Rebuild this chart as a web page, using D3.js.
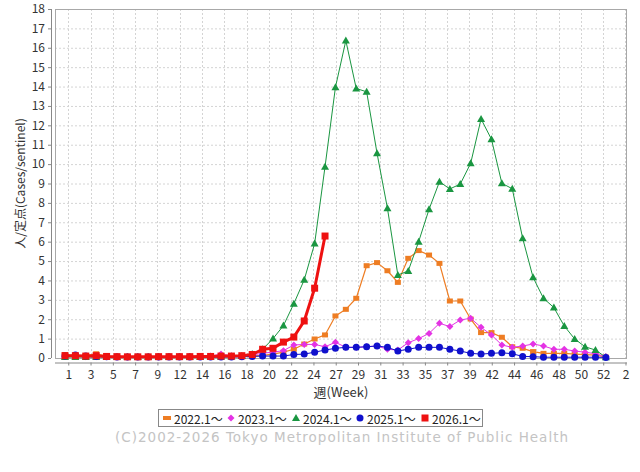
<!DOCTYPE html>
<html><head><meta charset="utf-8">
<script src="https://cdn.jsdelivr.net/npm/d3@7"></script>
<style>
html,body{margin:0;padding:0;background:#fff;}
svg{display:block;font-family:"Noto Sans CJK JP","Noto Sans",sans-serif;}
</style></head>
<body>
<svg id="chart" width="640" height="472"></svg>
<script>
// ---- data ----
const seriesNames = ["2022.1〜","2023.1〜","2024.1〜","2025.1〜","2026.1〜"];
const xTickLabels = ["1","3","5","7","9","12","14","16","18","20","22","24","27","29","31","33","35","37","39","42","44","46","48","50","52","2"];
const yTickValues = [0,1,2,3,4,5,6,7,8,9,10,11,12,13,14,15,16,17,18];
const s2022 = [0.18,0.12,0.12,0.22,0.1,0.08,0.06,0.05,0.05,0.05,0.05,0.05,0.05,0.05,0.06,0.06,0.07,0.08,0.1,0.14,0.2,0.3,0.45,0.72,0.98,1.19,2.17,2.51,3.08,4.76,4.92,4.5,3.9,5.14,5.54,5.31,4.88,2.94,2.94,2.01,1.31,1.31,1.07,0.58,0.5,0.33,0.24,0.24,0.24,0.2,0.17,0.15,0.05];
const s2023 = [0.08,0.08,0.07,0.07,0.06,0.05,0.05,0.05,0.05,0.05,0.06,0.06,0.07,0.08,0.1,0.2,0.12,0.12,0.15,0.25,0.3,0.38,0.67,0.7,0.7,0.58,0.81,0.55,0.55,0.58,0.62,0.45,0.41,0.79,1.0,1.27,1.79,1.62,1.96,2.05,1.58,1.19,0.67,0.55,0.62,0.72,0.62,0.45,0.45,0.36,0.3,0.22,0.08];
const s2024 = [0.05,0.05,0.05,0.05,0.05,0.05,0.05,0.05,0.05,0.05,0.05,0.05,0.05,0.05,0.06,0.07,0.08,0.1,0.2,0.45,1.0,1.67,2.8,4.03,5.9,9.87,13.96,16.37,13.9,13.73,10.56,7.72,4.28,4.49,6.0,7.67,9.09,8.72,8.97,10.04,12.33,11.28,9.01,8.73,6.17,4.16,3.08,2.6,1.65,0.98,0.58,0.41,0.04];
const s2025 = [0.1,0.15,0.1,0.08,0.06,0.05,0.05,0.05,0.05,0.05,0.05,0.05,0.05,0.05,0.05,0.05,0.05,0.06,0.08,0.1,0.1,0.1,0.18,0.2,0.3,0.41,0.5,0.55,0.55,0.58,0.62,0.55,0.36,0.45,0.55,0.55,0.55,0.45,0.36,0.24,0.2,0.24,0.27,0.22,0.08,0.07,0.04,0.04,0.04,0.04,0.04,0.04,0.03];
const s2026 = [0.12,0.12,0.1,0.12,0.08,0.07,0.06,0.06,0.06,0.07,0.07,0.07,0.07,0.08,0.08,0.1,0.1,0.12,0.18,0.45,0.5,0.82,1.08,1.91,3.6,6.29];
const allSeries = [s2022,s2023,s2024,s2025,s2026];

// ---- styles ----
const colors = ["#ee7d23","#e433e4","#1a9641","#1010cc","#ee1111"];
const widths = [1.2,1,1,1,3];
const shapes = ["rect","diamond","triangle","circle","square"];

const svg = d3.select("#chart");
const plot = {left:55, right:627, top:9, bottom:358};

// x in week-index units (index 0 = first weekly point), ticks every 15 days
const x = d3.scaleLinear().domain([-0.96, 54.03]).range([plot.left, plot.right]);
const y = d3.scaleLinear().domain([0,18]).range([plot.bottom, plot.top]);
const tickPos = xTickLabels.map((_, k) => (2.2 + 15*k)/7);

// grid
const g = svg.append("g");
g.append("rect").attr("x",plot.left).attr("y",plot.top)
  .attr("width",plot.right-plot.left).attr("height",plot.bottom-plot.top)
  .attr("fill","#fff").attr("stroke","none");
g.selectAll("line.hg").data(yTickValues.slice(1)).join("line")
  .attr("x1",plot.left).attr("x2",plot.right)
  .attr("y1",d=>y(d)+0.5).attr("y2",d=>y(d)+0.5)
  .attr("stroke","#d4d4d4").attr("stroke-width",1).attr("stroke-dasharray","2,2");
g.selectAll("line.vg").data(tickPos).join("line")
  .attr("y1",plot.top).attr("y2",plot.bottom)
  .attr("x1",d=>Math.round(x(d))+0.5).attr("x2",d=>Math.round(x(d))+0.5)
  .attr("stroke","#d4d4d4").attr("stroke-width",1).attr("stroke-dasharray","2,2");
g.append("rect").attr("x",plot.left+0.5).attr("y",plot.top+0.5)
  .attr("width",plot.right-plot.left-1).attr("height",plot.bottom-plot.top)
  .attr("fill","none").attr("stroke","#a8a8a8").attr("stroke-width",1);

// axes
const yAxis = svg.append("g").attr("transform",`translate(${plot.left-4},0)`)
  .call(d3.axisLeft(y).tickValues(yTickValues).tickSize(3).tickSizeOuter(0).tickPadding(3));
const xAxis = svg.append("g").attr("transform",`translate(0,${plot.bottom+4.5})`)
  .call(d3.axisBottom(x).tickValues(tickPos).tickFormat((d,i)=>xTickLabels[i]).tickSize(3).tickSizeOuter(0).tickPadding(5));
[yAxis,xAxis].forEach(a=>{
  a.attr("font-family",null).attr("font-size",null);
  a.select(".domain").attr("stroke","#888");
  a.selectAll(".tick line").attr("stroke","#888");
  a.selectAll(".tick text").attr("fill","#333").style("font-size","12px");
});
yAxis.select(".domain").attr("d",`M0.5,${plot.top}V${plot.bottom}`);
xAxis.select(".domain").attr("d",`M${plot.left},0.5H${plot.right}`);

// axis titles
svg.append("text").attr("transform",`translate(22,${(plot.top+plot.bottom)/2}) rotate(-90)`)
  .attr("text-anchor","middle").attr("dominant-baseline","middle")
  .style("font-size","12px").attr("fill","#333").text("人/定点(Cases/sentinel)");
svg.append("text").attr("x",(plot.left+plot.right)/2).attr("y",397)
  .attr("text-anchor","middle").style("font-size","13px").attr("fill","#333").text("週(Week)");

// markers
function drawMarker(sel, shape, color){
  if(shape==="rect") sel.append("rect").attr("x",-3).attr("y",-2.5).attr("width",6).attr("height",5).attr("fill",color);
  else if(shape==="square") sel.append("rect").attr("x",-3.5).attr("y",-3.5).attr("width",7).attr("height",7).attr("fill",color);
  else if(shape==="diamond") sel.append("path").attr("d","M0,-3.5L3.5,0L0,3.5L-3.5,0Z").attr("fill",color);
  else if(shape==="triangle") sel.append("path").attr("d","M0,-4L4,3L-4,3Z").attr("fill",color);
  else sel.append("circle").attr("r",3.5).attr("fill",color);
}

const line = d3.line().x((d,i)=>x(i)).y(d=>y(d));
const series = svg.append("g");
allSeries.forEach((vals,si)=>{
  const sg = series.append("g");
  sg.append("path").datum(vals).attr("d",line).attr("fill","none")
    .attr("stroke",colors[si]).attr("stroke-width",widths[si]).attr("stroke-linejoin","round");
  sg.selectAll("g.m").data(vals).join("g")
    .attr("transform",(d,i)=>`translate(${x(i)},${y(d)})`)
    .each(function(){ drawMarker(d3.select(this), shapes[si], colors[si]); });
});

// legend
const lg = svg.append("g");
lg.append("rect").attr("x",158.5).attr("y",409.5).attr("width",324).attr("height",17)
  .attr("fill","#fff").attr("stroke","#888");
const legX = [167,231,296,360,425];
seriesNames.forEach((n,i)=>{
  const it = lg.append("g").attr("transform",`translate(${legX[i]},418)`);
  if(shapes[i]==="rect") it.append("rect").attr("x",-4).attr("y",-2).attr("width",8).attr("height",4).attr("fill",colors[i]);
  else drawMarker(it, shapes[i], colors[i]);
  it.append("text").attr("x",7).attr("y",0).attr("dominant-baseline","central")
    .style("font-size","12px").attr("fill","#222").text(n);
});

// footer
svg.append("text").attr("x",115).attr("y",442)
  .attr("textLength",453).attr("lengthAdjust","spacing")
  .style("font-family",'"DejaVu Sans",sans-serif').style("font-size","13.5px")
  .attr("fill","#c4c4c4").text("(C)2002-2026 Tokyo Metropolitan Institute of Public Health");
</script>
</body></html>
